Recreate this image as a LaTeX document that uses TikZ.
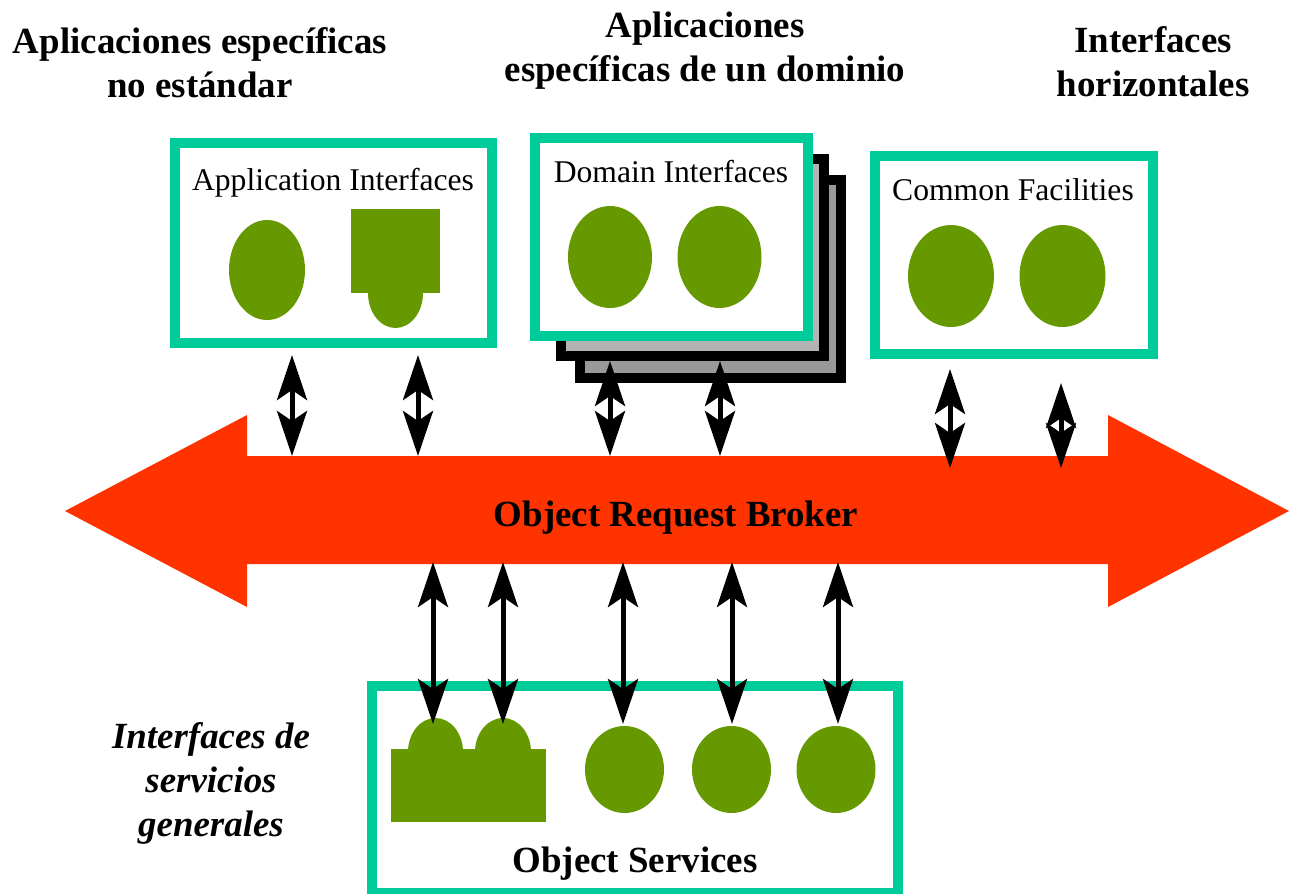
\documentclass[tikz,border=0pt]{standalone}
\usepackage{fontspec}
\setmainfont{Liberation Serif}
\usepackage{xcolor}
\usetikzlibrary{arrows.meta,shapes.geometric}
\definecolor{orbred}{HTML}{FF3300}
\definecolor{boxteal}{HTML}{00CC99}
\definecolor{blobgreen}{HTML}{669900}
\definecolor{stackA}{HTML}{B3B3B3}
\definecolor{stackB}{HTML}{999999}

\begin{document}
\begin{tikzpicture}[
    x=0.02cm, y=-0.02cm,
    ifbox/.style={rectangle, draw=boxteal, line width=0.2cm, fill=white, inner sep=0pt},
    stackbox/.style={rectangle, draw=black, line width=0.2cm, inner sep=0pt},
    blob/.style={ellipse, fill=blobgreen, inner sep=0pt},
    link/.style={line width=0.1cm, {Stealth[length=0.9cm,width=0.6cm,inset=0.2cm]}-{Stealth[length=0.9cm,width=0.6cm,inset=0.2cm]}},
    ttl/.style={font=\bfseries\fontsize{21}{25}\selectfont, align=center, anchor=base},
    lbl/.style={font=\fontsize{18}{22}\selectfont, anchor=base}
]
\useasboundingbox (0,0) rectangle (1291,893);
% Titles (base = last line)
\node[ttl] (tApp) at (200,97) {Aplicaciones específicas\\no estándar};
\node[ttl] (tDom) at (705,81) {Aplicaciones\\específicas de un dominio};
\node[ttl] (tHor) at (1153,96) {Interfaces\\horizontales};
\node[ttl, font=\bfseries\itshape\fontsize{21}{25}\selectfont] (tSrv) at (211,836) {Interfaces de\\servicios\\generales};
% Application Interfaces
\node[ifbox, minimum width=6.34cm, minimum height=4cm] (appbox) at (333.5,243) {};
\node[lbl] (applbl) at (333,190) {Application Interfaces};
\node[blob, minimum width=1.52cm, minimum height=2cm] (app1) at (267,270) {};
\fill[blobgreen] (395.5,293) ellipse [x radius=27.5, y radius=35];
\fill[blobgreen] (351,209) rectangle (440,293);
% Domain Interfaces
\node[stackbox, fill=stackB, minimum width=5.22cm, minimum height=3.96cm] (dom2) at (710.5,279) {};
\node[stackbox, fill=stackA, minimum width=5.26cm, minimum height=3.94cm] (dom1) at (692.5,257.5) {};
\node[ifbox, minimum width=5.46cm, minimum height=3.96cm] (dombox) at (671.5,237) {};
\node[lbl] (domlbl) at (671,182) {Domain Interfaces};
\foreach \i/\x in {1/610, 2/719.5} {
    \node[blob, minimum width=1.68cm, minimum height=2.04cm] (dom\i e) at (\x,257) {};
}
% Common Facilities
\node[ifbox, minimum width=5.56cm, minimum height=3.96cm] (combox) at (1014,255) {};
\node[lbl] (comlbl) at (1013,200) {Common Facilities};
\foreach \i/\x in {1/951, 2/1062.5} {
    \node[blob, minimum width=1.72cm, minimum height=2.04cm] (com\i e) at (\x,276) {};
}
% Object Request Broker
\fill[orbred] (65,511) -- (247,415) -- (247,456) -- (1108,456) -- (1108,415) -- (1289,511)
    -- (1108,607) -- (1108,564) -- (247,564) -- (247,607) -- cycle;
\node[ttl] (orb) at (676,526) {Object Request Broker};
% Object Services
\node[ifbox, minimum width=10.52cm, minimum height=4.14cm] (srvbox) at (635,789.5) {};
\node[ttl] (srvlbl) at (635,872) {Object Services};
\fill[blobgreen] (435.5,752) ellipse [x radius=27.5, y radius=34];
\fill[blobgreen] (503,752) ellipse [x radius=28, y radius=34];
\fill[blobgreen] (391,749) rectangle (546,822);
\foreach \i/\x in {1/624.5, 2/731.5, 3/836} {
    \node[blob, minimum width=1.58cm, minimum height=1.74cm] (srv\i e) at (\x,769.5) {};
}
% links to the broker
\foreach \n/\x/\ya/\yb in {a/292/355/456, b/418/355/456, c/610/361/456, d/720/361/456,
    e/950/369/468, f/1061/383/468, g/433/562/724, h/503/562/724, i/623/562/724,
    j/732/562/724, k/838/562/724} {
    \coordinate (\n top) at (\x,\ya);
    \coordinate (\n bot) at (\x,\yb);
    \draw[link] (\n top) -- (\n bot);
}
\end{tikzpicture}
\end{document}
